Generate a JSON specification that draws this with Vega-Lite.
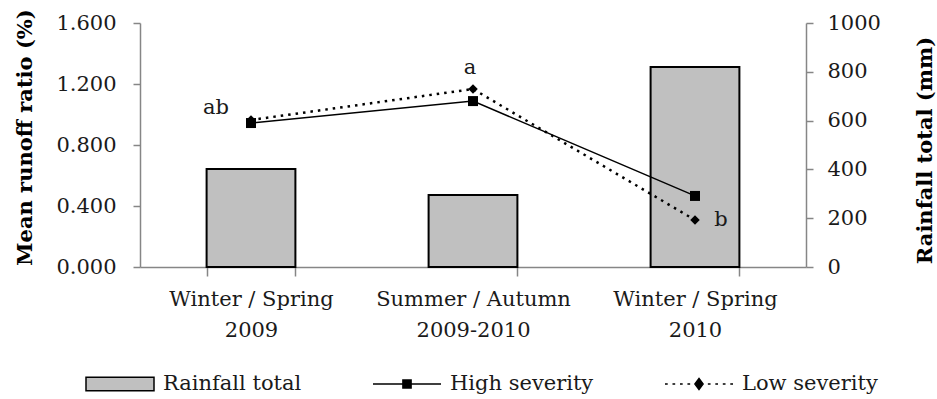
{
  "$schema": "https://vega.github.io/schema/vega-lite/v6.json",
  "width": 666,
  "height": 244,
  "autosize": "none",
  "padding": {"left": 140, "top": 23, "right": 131, "bottom": 132},
  "background": "white",
  "config": {
    "view": {"stroke": null},
    "font": "DejaVu Serif",
    "axis": {
      "grid": false,
      "domainColor": "#868686",
      "tickColor": "#868686",
      "domainWidth": 1.5,
      "tickWidth": 1.5,
      "tickSize": 7,
      "labelFont": "DejaVu Serif",
      "labelFontSize": 21,
      "labelColor": "#1a1a1a",
      "labelLimit": 0,
      "titleFont": "DejaVu Serif",
      "titleFontSize": 21,
      "titleFontWeight": "bold",
      "titleColor": "#000000"
    },
    "legend": {
      "labelFont": "DejaVu Serif"
    }
  },
  "data": {
    "values": [
      {"period": "Winter / Spring\n2009", "series": "Rainfall total", "value": 402},
      {"period": "Summer / Autumn\n2009-2010", "series": "Rainfall total", "value": 295},
      {"period": "Winter / Spring\n2010", "series": "Rainfall total", "value": 820},
      {"period": "Winter / Spring\n2009", "series": "High severity", "value": 0.944},
      {"period": "Summer / Autumn\n2009-2010", "series": "High severity", "value": 1.088},
      {"period": "Winter / Spring\n2010", "series": "High severity", "value": 0.466},
      {"period": "Winter / Spring\n2009", "series": "Low severity", "value": 0.964, "label": "ab"},
      {"period": "Summer / Autumn\n2009-2010", "series": "Low severity", "value": 1.167, "label": "a"},
      {"period": "Winter / Spring\n2010", "series": "Low severity", "value": 0.308, "label": "b"}
    ]
  },
  "encoding": {
    "x": {
      "field": "period",
      "type": "nominal",
      "sort": null,
      "scale": {"paddingInner": 0.6, "paddingOuter": 0.3},
      "axis": {
        "title": null,
        "labelAngle": 0,
        "tickBand": "extent",
        "tickSize": 9,
        "labelExpr": "datum.value ? split(datum.value, '\\n') : ''",
        "labelLineHeight": 31,
        "labelPadding": 12,
        "labelLimit": 0
      }
    }
  },
  "layer": [
    {
      "transform": [{"filter": "datum.series === 'Rainfall total'"}],
      "mark": {"type": "bar", "fill": "#c0c0c0", "stroke": "#000000", "strokeWidth": 2, "strokeOpacity": 1},
      "encoding": {
        "y": {
          "field": "value",
          "type": "quantitative",
          "scale": {"domain": [0, 1000]},
          "axis": {
            "orient": "right",
            "values": [0, 200, 400, 600, 800, 1000],
            "format": "d",
            "title": "Rainfall total (mm)",
            "labelPadding": 14,
            "titleAngle": -90,
            "titleX": 119,
            "titleY": 127,
            "titleAlign": "center",
            "titleBaseline": "middle"
          }
        }
      }
    },
    {
      "layer": [
        {
          "transform": [{"filter": "datum.series === 'High severity'"}],
          "mark": {"type": "line", "color": "#000000", "strokeWidth": 1.5},
          "encoding": {
            "y": {
              "field": "value",
              "type": "quantitative",
              "scale": {"domain": [0, 1.6]},
              "axis": {
                "orient": "left",
                "values": [0, 0.4, 0.8, 1.2, 1.6],
                "format": ".3f",
                "title": "Mean runoff ratio (%)",
                "labelPadding": 17,
                "titleAngle": -90,
                "titleX": -115,
                "titleY": 114,
                "titleAlign": "center",
                "titleBaseline": "middle"
              }
            }
          }
        },
        {
          "transform": [{"filter": "datum.series === 'Low severity'"}],
          "mark": {"type": "line", "color": "#000000", "strokeWidth": 2.5, "strokeDash": [2.5, 5]},
          "encoding": {"y": {"field": "value", "type": "quantitative"}}
        },
        {
          "transform": [{"filter": "datum.series === 'Low severity'"}],
          "mark": {"type": "point", "shape": "diamond", "filled": true, "color": "#000000", "size": 90, "opacity": 1},
          "encoding": {"y": {"field": "value", "type": "quantitative"}}
        },
        {
          "transform": [{"filter": "datum.series === 'High severity'"}],
          "mark": {"type": "point", "shape": "square", "filled": true, "color": "#000000", "size": 100, "opacity": 1},
          "encoding": {"y": {"field": "value", "type": "quantitative"}}
        },
        {
          "transform": [{"filter": "datum.label === 'ab'"}],
          "mark": {"type": "text", "font": "DejaVu Serif", "fontSize": 21, "color": "#1a1a1a", "dx": -35, "dy": -12, "baseline": "middle"},
          "encoding": {"y": {"field": "value", "type": "quantitative"}, "text": {"field": "label"}}
        },
        {
          "transform": [{"filter": "datum.label === 'a'"}],
          "mark": {"type": "text", "font": "DejaVu Serif", "fontSize": 21, "color": "#1a1a1a", "dx": -3, "dy": -21, "baseline": "middle"},
          "encoding": {"y": {"field": "value", "type": "quantitative"}, "text": {"field": "label"}}
        },
        {
          "transform": [{"filter": "datum.label === 'b'"}],
          "mark": {"type": "text", "font": "DejaVu Serif", "fontSize": 21, "color": "#1a1a1a", "dx": 26, "dy": 0, "baseline": "middle"},
          "encoding": {"y": {"field": "value", "type": "quantitative"}, "text": {"field": "label"}}
        },
        {
          "mark": {"type": "point", "filled": true, "opacity": 0, "stroke": "#000000", "strokeWidth": 1.5},
          "encoding": {
            "shape": {
              "field": "series",
              "type": "nominal",
              "scale": {
                "domain": ["Rainfall total", "High severity", "Low severity"],
                "range": [
                  "M-1,-0.2H1V0.2H-1Z",
                  "M-1,0H1M-0.12,-0.12H0.12V0.12H-0.12Z",
                  "M-1,0h0.08M-0.78,0h0.08M-0.56,0h0.08M-0.34,0h0.08M0.26,0h0.08M0.48,0h0.08M0.7,0h0.08M0.92,0h0.08M0,-0.16L0.12,0L0,0.16L-0.12,0Z"
                ]
              },
              "legend": {
                "orient": "none",
                "legendX": -55,
                "legendY": 326,
                "direction": "horizontal",
                "title": null,
                "symbolSize": 4624,
                "labelFontSize": 21,
                "labelColor": "#1a1a1a",
                "labelOffset": 8,
                "columnPadding": 68,
                "symbolOpacity": 1,
                "symbolFillColor": "#000000",
                "encode": {
                  "symbols": {
                    "update": {
                      "fill": {"signal": "datum.value === 'Rainfall total' ? '#c0c0c0' : '#000000'"},
                      "fillOpacity": {"value": 1},
                      "stroke": {"value": "#000000"},
                      "strokeOpacity": {"value": 1},
                      "strokeWidth": {"signal": "datum.value === 'Rainfall total' ? 2 : 1.6"},
                      "opacity": {"value": 1}
                    }
                  }
                }
              }
            },
            "fill": {
              "field": "series",
              "type": "nominal",
              "scale": {
                "domain": ["Rainfall total", "High severity", "Low severity"],
                "range": ["#c0c0c0", "#000000", "#000000"]
              },
              "legend": {
                "orient": "none",
                "legendX": -55,
                "legendY": 326,
                "direction": "horizontal",
                "title": null,
                "symbolSize": 4624,
                "labelFontSize": 21,
                "labelColor": "#1a1a1a",
                "labelOffset": 8,
                "columnPadding": 68,
                "symbolOpacity": 1,
                "symbolFillColor": "#000000",
                "encode": {
                  "symbols": {
                    "update": {
                      "fill": {"signal": "datum.value === 'Rainfall total' ? '#c0c0c0' : '#000000'"},
                      "fillOpacity": {"value": 1},
                      "stroke": {"value": "#000000"},
                      "strokeOpacity": {"value": 1},
                      "strokeWidth": {"signal": "datum.value === 'Rainfall total' ? 2 : 1.6"},
                      "opacity": {"value": 1}
                    }
                  }
                }
              }
            }
          }
        }
      ]
    }
  ],
  "resolve": {"scale": {"y": "independent"}}
}
